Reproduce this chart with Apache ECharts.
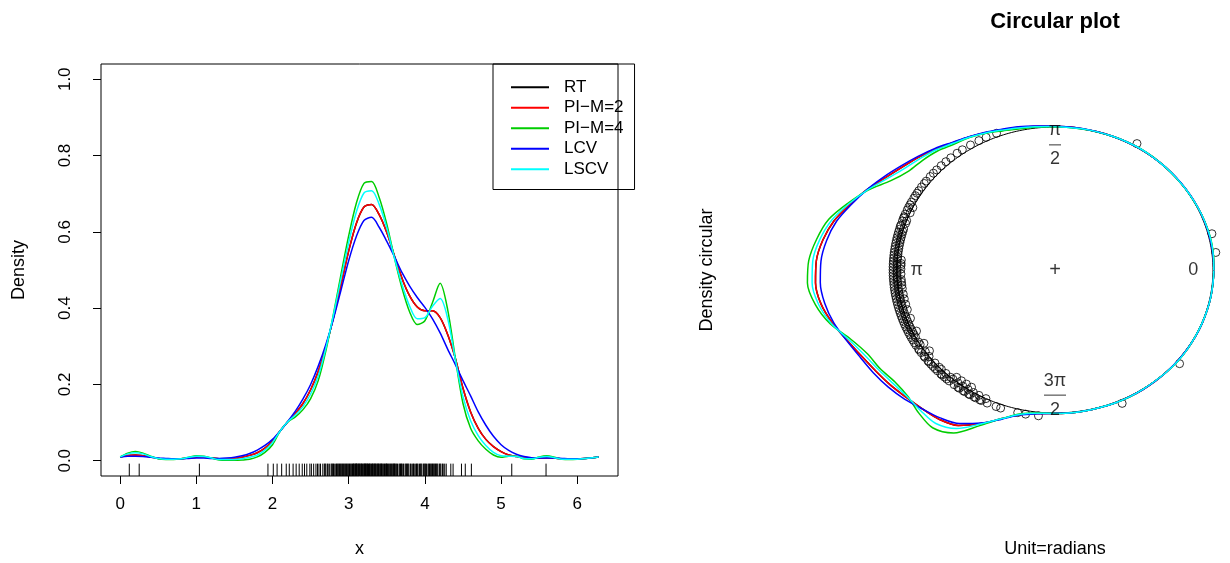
<!DOCTYPE html>
<html>
<head>
<meta charset="utf-8">
<script src="https://cdn.jsdelivr.net/npm/echarts@6/dist/echarts.min.js"></script>
<style>
  html, body { margin: 0; padding: 0; background: #ffffff; }
  #chart { width: 1230px; height: 563px; }
</style>
</head>
<body>
<div id="chart"></div>
<script>
// Evaluation grid (radians) for the kernel density estimates
const xs = [0.0, 0.1, 0.2, 0.3, 0.4, 0.5, 0.6, 0.7, 0.8, 0.9,
            1.0, 1.1, 1.2, 1.3, 1.4, 1.5, 1.6, 1.7, 1.8, 1.9,
            2.0, 2.1, 2.2, 2.3, 2.4, 2.5, 2.6, 2.7, 2.8, 2.9,
            3.0, 3.1, 3.2, 3.3, 3.4, 3.5, 3.6, 3.7, 3.8, 3.9,
            4.0, 4.1, 4.2, 4.3, 4.4, 4.5, 4.6, 4.7, 4.8, 4.9,
            5.0, 5.1, 5.2, 5.3, 5.4, 5.5, 5.6, 5.7, 5.8, 5.9,
            6.0, 6.1, 6.2, 6.28];

// Linear-scale density estimates, one array per bandwidth selector
const densRT = [0.010, 0.014, 0.015, 0.013, 0.010, 0.006, 0.004, 0.004, 0.005, 0.007,
                0.009, 0.009, 0.007, 0.005, 0.005, 0.006, 0.009, 0.014, 0.021, 0.033,
                0.052, 0.078, 0.102, 0.124, 0.150, 0.186, 0.234, 0.298, 0.375, 0.462,
                0.550, 0.622, 0.665, 0.672, 0.645, 0.598, 0.537, 0.478, 0.432, 0.403,
                0.393, 0.393, 0.375, 0.330, 0.268, 0.190, 0.128, 0.085, 0.056, 0.037,
                0.024, 0.015, 0.011, 0.008, 0.007, 0.007, 0.008, 0.007, 0.005, 0.005,
                0.005, 0.006, 0.008, 0.010];
const densPI2 = [0.010, 0.014, 0.015, 0.013, 0.010, 0.006, 0.004, 0.004, 0.005, 0.007,
                 0.009, 0.009, 0.007, 0.005, 0.005, 0.006, 0.009, 0.014, 0.021, 0.033,
                 0.052, 0.078, 0.102, 0.124, 0.150, 0.186, 0.234, 0.298, 0.375, 0.462,
                 0.550, 0.622, 0.665, 0.672, 0.645, 0.598, 0.537, 0.478, 0.432, 0.403,
                 0.393, 0.393, 0.375, 0.330, 0.268, 0.190, 0.128, 0.085, 0.056, 0.037,
                 0.024, 0.015, 0.011, 0.008, 0.007, 0.007, 0.008, 0.007, 0.005, 0.005,
                 0.005, 0.006, 0.008, 0.010];
const densPI4 = [0.010, 0.020, 0.024, 0.020, 0.012, 0.005, 0.003, 0.003, 0.005, 0.009,
                 0.013, 0.012, 0.007, 0.002, 0.001, 0.001, 0.002, 0.004, 0.010, 0.022,
                 0.042, 0.078, 0.102, 0.115, 0.134, 0.163, 0.210, 0.288, 0.385, 0.490,
                 0.590, 0.675, 0.727, 0.732, 0.690, 0.620, 0.532, 0.452, 0.390, 0.357,
                 0.367, 0.415, 0.465, 0.395, 0.268, 0.150, 0.085, 0.052, 0.030, 0.015,
                 0.009, 0.012, 0.012, 0.005, 0.004, 0.010, 0.013, 0.009, 0.004, 0.003,
                 0.004, 0.006, 0.008, 0.010];
const densLCV = [0.010, 0.012, 0.012, 0.011, 0.009, 0.007, 0.006, 0.005, 0.005, 0.006,
                 0.007, 0.007, 0.006, 0.006, 0.007, 0.009, 0.013, 0.019, 0.028, 0.040,
                 0.056, 0.078, 0.103, 0.130, 0.162, 0.200, 0.248, 0.305, 0.372, 0.448,
                 0.525, 0.588, 0.630, 0.638, 0.612, 0.575, 0.535, 0.493, 0.458, 0.428,
                 0.402, 0.372, 0.335, 0.292, 0.252, 0.210, 0.170, 0.128, 0.093, 0.064,
                 0.042, 0.027, 0.017, 0.011, 0.008, 0.007, 0.007, 0.007, 0.006, 0.005,
                 0.005, 0.006, 0.008, 0.010];
const densLSCV = [0.010, 0.018, 0.021, 0.018, 0.011, 0.006, 0.004, 0.004, 0.005, 0.009,
                  0.012, 0.011, 0.007, 0.003, 0.003, 0.003, 0.005, 0.009, 0.015, 0.028,
                  0.048, 0.078, 0.102, 0.120, 0.142, 0.175, 0.222, 0.295, 0.382, 0.478,
                  0.572, 0.652, 0.702, 0.708, 0.672, 0.610, 0.532, 0.462, 0.405, 0.372,
                  0.375, 0.405, 0.425, 0.372, 0.265, 0.168, 0.105, 0.066, 0.040, 0.022,
                  0.013, 0.012, 0.011, 0.006, 0.005, 0.009, 0.011, 0.008, 0.004, 0.004,
                  0.004, 0.006, 0.008, 0.010];

// Circular density estimates on the same angle grid (radial height above the unit circle)
const circRT = [0.006, 0.008, 0.009, 0.008, 0.006, 0.004, 0.003, 0.003, 0.004, 0.005,
                0.006, 0.006, 0.005, 0.004, 0.004, 0.005, 0.008, 0.015, 0.030, 0.045,
                0.070, 0.097, 0.125, 0.168, 0.210, 0.255, 0.315, 0.395, 0.470, 0.550,
                0.605, 0.640, 0.648, 0.625, 0.570, 0.505, 0.455, 0.420, 0.395, 0.370,
                0.355, 0.345, 0.310, 0.215, 0.115, 0.042, 0.012, 0.004, 0.004, 0.004,
                0.004, 0.005, 0.006, 0.005, 0.004, 0.004, 0.005, 0.005, 0.004, 0.004,
                0.004, 0.005, 0.005, 0.006];
const circPI2 = circRT.slice();
const circPI4 = [0.006, 0.010, 0.012, 0.010, 0.007, 0.003, 0.002, 0.002, 0.003, 0.006,
                 0.008, 0.007, 0.004, 0.002, 0.001, 0.001, 0.003, 0.008, 0.015, 0.035,
                 0.065, 0.092, 0.110, 0.145, 0.170, 0.195, 0.265, 0.385, 0.490, 0.595,
                 0.655, 0.700, 0.712, 0.670, 0.590, 0.475, 0.405, 0.380, 0.350, 0.355,
                 0.400, 0.435, 0.385, 0.235, 0.115, 0.035, 0.008, 0.003, 0.004, 0.004,
                 0.004, 0.006, 0.007, 0.004, 0.003, 0.005, 0.007, 0.005, 0.003, 0.003,
                 0.004, 0.005, 0.005, 0.006];
const circLCV = [0.006, 0.007, 0.007, 0.007, 0.006, 0.005, 0.004, 0.004, 0.004, 0.004,
                 0.005, 0.005, 0.004, 0.004, 0.005, 0.006, 0.010, 0.020, 0.035, 0.050,
                 0.075, 0.100, 0.130, 0.175, 0.220, 0.270, 0.330, 0.395, 0.460, 0.530,
                 0.575, 0.603, 0.610, 0.595, 0.560, 0.510, 0.470, 0.445, 0.420, 0.390,
                 0.355, 0.330, 0.290, 0.210, 0.120, 0.045, 0.015, 0.004, 0.004, 0.004,
                 0.004, 0.005, 0.005, 0.005, 0.004, 0.004, 0.004, 0.004, 0.004, 0.004,
                 0.004, 0.005, 0.005, 0.006];
const circLSCV = [0.006, 0.009, 0.011, 0.009, 0.007, 0.004, 0.003, 0.003, 0.004, 0.005,
                  0.007, 0.006, 0.004, 0.003, 0.002, 0.002, 0.004, 0.012, 0.025, 0.042,
                  0.068, 0.095, 0.120, 0.160, 0.195, 0.235, 0.300, 0.390, 0.480, 0.570,
                  0.630, 0.668, 0.675, 0.645, 0.580, 0.490, 0.430, 0.395, 0.370, 0.360,
                  0.375, 0.390, 0.340, 0.220, 0.115, 0.040, 0.010, 0.004, 0.004, 0.004,
                  0.004, 0.006, 0.006, 0.004, 0.003, 0.005, 0.006, 0.005, 0.003, 0.003,
                  0.004, 0.005, 0.005, 0.006];

// Observed angles (radians)
const angles = [
  0.12, 0.25, 1.04, 1.94, 2.01, 2.06, 2.12, 2.18, 2.22, 2.27,
  2.31, 2.35, 2.39, 2.42, 2.45, 2.49, 2.51, 2.54, 2.57, 2.59,
  2.61, 2.63, 2.66, 2.68, 2.69, 2.70, 2.72, 2.73, 2.75, 2.77,
  2.78, 2.79, 2.80, 2.81, 2.83, 2.84, 2.85, 2.86, 2.87, 2.88,
  2.89, 2.90, 2.91, 2.92, 2.93, 2.94, 2.95, 2.96, 2.97, 2.98,
  2.99, 3.00, 3.01, 3.02, 3.03, 3.04, 3.05, 3.06, 3.065, 3.07,
  3.08, 3.09, 3.095, 3.10, 3.105, 3.11, 3.12, 3.13, 3.135, 3.14,
  3.15, 3.16, 3.165, 3.17, 3.18, 3.19, 3.20, 3.205, 3.21, 3.22,
  3.225, 3.23, 3.24, 3.245, 3.25, 3.26, 3.27, 3.275, 3.28, 3.29,
  3.30, 3.31, 3.315, 3.32, 3.33, 3.34, 3.345, 3.35, 3.36, 3.37,
  3.38, 3.385, 3.39, 3.40, 3.41, 3.42, 3.425, 3.43, 3.44, 3.45,
  3.46, 3.47, 3.48, 3.49, 3.495, 3.50, 3.51, 3.52, 3.53, 3.54,
  3.55, 3.56, 3.57, 3.58, 3.59, 3.595, 3.60, 3.61, 3.62, 3.63,
  3.64, 3.66, 3.67, 3.68, 3.69, 3.695, 3.71, 3.72, 3.74, 3.75,
  3.76, 3.77, 3.78, 3.79, 3.81, 3.82, 3.84, 3.85, 3.86, 3.88,
  3.89, 3.90, 3.91, 3.93, 3.94, 3.95, 3.96, 3.98, 3.99, 4.00,
  4.01, 4.02, 4.04, 4.05, 4.06, 4.07, 4.08, 4.09, 4.10, 4.11,
  4.12, 4.13, 4.14, 4.15, 4.16, 4.17, 4.19, 4.20, 4.21, 4.23,
  4.24, 4.26, 4.28, 4.34, 4.37, 4.48, 4.53, 4.61, 5.14, 5.59
];

// Axis ticks
const xTicks = [0, 1, 2, 3, 4, 5, 6];
const yTicks = [0, 0.2, 0.4, 0.6, 0.8, 1.0];

// Labels placed inside the circle
const circleLabels = [
  { angle: 0, text: '0' },
  { angle: Math.PI / 2, text: '{n|\u03c0}\n{bar1| }\n{d|2}' },
  { angle: Math.PI, text: '\u03c0' },
  { angle: 3 * Math.PI / 2, text: '{n|3\u03c0}\n{bar2| }\n{d|2}' }
];

const seriesNames = ['RT', 'PI\u2212M=2', 'PI\u2212M=4', 'LCV', 'LSCV'];
const seriesColors = ['#000000', '#FF0000', '#00CD00', '#0000FF', '#00FFFF'];
const densities = [densRT, densPI2, densPI4, densLCV, densLSCV];
const circDensities = [circRT, circPI2, circPI4, circLCV, circLSCV];

const FONT = '"Liberation Sans", Arial, Helvetica, sans-serif';
const LINE_W = 1.5;
const FS = 17;       // tick labels and legend
const FS_LAB = 18;   // axis titles

// Linear panel ranges (4% padding like base graphics)
const X_MIN = -0.04 * 2 * Math.PI, X_MAX = 2 * Math.PI * 1.04;
const Y_MIN = -0.04, Y_MAX = 1.04;
const RUG_LEN = 0.03 * (Y_MAX - Y_MIN);

// Circular panel geometry
const CX = 1055, CY = 270, RX = 158, RY = 143;
const CXMIN = -2.2, CXMAX = 1.1, CYMIN = -1.5, CYMAX = 1.5;
const RADIAL_SCALE = 0.8;
const POINT_R = 1.025, STACK_SEP = 0.025, STACK_BIN = 0.02;
const LABEL_R = 0.875;

// Linear density curves
const linearSeries = seriesNames.map((name, i) => ({
  name, type: 'line', xAxisIndex: 0, yAxisIndex: 0,
  data: xs.map((x, j) => [x, densities[i][j]]),
  symbol: 'none', smooth: 0.3,
  lineStyle: { color: seriesColors[i], width: LINE_W },
  itemStyle: { color: seriesColors[i] },
  z: 3 + i
}));

// Circular density curves wrapped round the unit circle
const circularSeries = seriesNames.map((name, i) => {
  const pts = xs.map((a, j) => {
    const r = 1 + RADIAL_SCALE * circDensities[i][j];
    return [r * Math.cos(a), r * Math.sin(a)];
  });
  pts.push(pts[0]);
  return {
    name, type: 'line', xAxisIndex: 1, yAxisIndex: 1,
    data: pts, symbol: 'none', smooth: 0.3, clip: false,
    lineStyle: { color: seriesColors[i], width: LINE_W },
    itemStyle: { color: seriesColors[i] },
    z: 3 + i
  };
});

// Unit circle outline
const unitCircle = [];
for (let k = 0; k <= 360; k++) {
  const t = k / 360 * 2 * Math.PI;
  unitCircle.push([Math.cos(t), Math.sin(t)]);
}

// Stack coincident observations inward
const stackCount = {};
const pointData = angles.map(a => {
  const bin = Math.floor(a / STACK_BIN);
  const lvl = stackCount[bin] || 0;
  stackCount[bin] = lvl + 1;
  const r = POINT_R - STACK_SEP * lvl;
  return [r * Math.cos(a), r * Math.sin(a)];
});

const option = {
  animation: false,
  backgroundColor: '#ffffff',
  textStyle: { fontFamily: FONT, color: '#000' },
  legend: {
    orient: 'vertical', left: 493, top: 64,
    itemWidth: 38, itemHeight: 14, itemGap: 0,
    padding: [13, 11, 10, 17],
    borderColor: '#000', borderWidth: 1, borderRadius: 0,
    selectedMode: false,
    itemStyle: { opacity: 0 },
    textStyle: { fontFamily: FONT, fontSize: FS, color: '#000', lineHeight: 20.5, padding: [0, 0, 0, 10] },
    data: seriesNames
  },
  grid: [
    { left: 101, top: 64, width: 517, height: 412, show: true,
      borderColor: '#000', borderWidth: 1, backgroundColor: 'transparent' },
    { left: CX + CXMIN * RX, top: CY - CYMAX * RY,
      width: (CXMAX - CXMIN) * RX, height: (CYMAX - CYMIN) * RY, show: false }
  ],
  xAxis: [
    { type: 'value', gridIndex: 0, min: X_MIN, max: X_MAX,
      name: 'x', nameLocation: 'middle', nameGap: 64,
      nameTextStyle: { fontFamily: FONT, fontSize: FS_LAB, color: '#000' },
      axisLine: { show: false, onZero: false },
      axisTick: { show: true, customValues: xTicks, length: 8, lineStyle: { color: '#000' } },
      axisLabel: { customValues: xTicks, margin: 20, fontFamily: FONT, fontSize: FS, color: '#000' },
      splitLine: { show: false } },
    { type: 'value', gridIndex: 1, min: CXMIN, max: CXMAX, show: false,
      axisLine: { onZero: false } }
  ],
  yAxis: [
    { type: 'value', gridIndex: 0, min: Y_MIN, max: Y_MAX,
      name: 'Density', nameLocation: 'middle', nameGap: 73,
      nameTextStyle: { fontFamily: FONT, fontSize: FS_LAB, color: '#000' },
      axisLine: { show: false, onZero: false },
      axisTick: { show: true, customValues: yTicks, length: 8, lineStyle: { color: '#000' } },
      axisLabel: { customValues: yTicks, rotate: 90, margin: 27, fontFamily: FONT, fontSize: FS, color: '#000',
                   formatter: v => v.toFixed(1) },
      splitLine: { show: false } },
    { type: 'value', gridIndex: 1, min: CYMIN, max: CYMAX, show: false,
      axisLine: { onZero: false } }
  ],
  series: [
    ...linearSeries,
    {
      name: 'rug', type: 'custom', xAxisIndex: 0, yAxisIndex: 0,
      data: angles.map(a => [a, Y_MIN]), silent: true, z: 2,
      renderItem: (params, api) => {
        const p0 = api.coord([api.value(0), Y_MIN]);
        const p1 = api.coord([api.value(0), Y_MIN + RUG_LEN]);
        return { type: 'line', shape: { x1: p0[0], y1: p0[1], x2: p1[0], y2: p1[1] },
                 style: { stroke: '#000', lineWidth: 1 } };
      }
    },
    {
      name: 'circle', type: 'line', xAxisIndex: 1, yAxisIndex: 1,
      data: unitCircle, symbol: 'none', clip: false, silent: true,
      lineStyle: { color: '#000', width: 1 }, z: 2
    },
    {
      name: 'obs', type: 'scatter', xAxisIndex: 1, yAxisIndex: 1,
      data: pointData, symbol: 'circle', symbolSize: 8, clip: false, silent: true,
      itemStyle: { color: 'rgba(0,0,0,0)', borderColor: '#000', borderWidth: 1 }, z: 2
    },
    ...circularSeries,
    {
      name: 'axisText', type: 'scatter', xAxisIndex: 1, yAxisIndex: 1, silent: true,
      symbolSize: 0, z: 10,
      data: circleLabels.map(l => ({
        value: [LABEL_R * Math.cos(l.angle), LABEL_R * Math.sin(l.angle)],
        label: { formatter: l.text }
      })).concat([{ value: [0, 0], label: { formatter: '+', fontSize: 20 } }]),
      label: {
        show: true, position: 'inside', fontFamily: FONT, fontSize: 18, color: '#000',
        align: 'center', verticalAlign: 'middle',
        rich: {
          n: { fontFamily: FONT, fontSize: 18, color: '#000', lineHeight: 20, align: 'center' },
          d: { fontFamily: FONT, fontSize: 18, color: '#000', lineHeight: 20, align: 'center' },
          bar1: { width: 12, height: 1, lineHeight: 9, fontSize: 1, backgroundColor: '#000', align: 'center' },
          bar2: { width: 22, height: 1, lineHeight: 9, fontSize: 1, backgroundColor: '#000', align: 'center' }
        }
      }
    }
  ],
  graphic: [
    { type: 'text', x: CX, y: 22, style: { text: 'Circular plot',
      font: 'bold 22px ' + FONT, fill: '#000', textAlign: 'center', textVerticalAlign: 'middle' } },
    { type: 'text', x: 707, y: CY, rotation: Math.PI / 2, style: { text: 'Density circular',
      font: FS_LAB + 'px ' + FONT, fill: '#000', textAlign: 'center', textVerticalAlign: 'middle' } },
    { type: 'text', x: CX, y: 549, style: { text: 'Unit=radians',
      font: FS_LAB + 'px ' + FONT, fill: '#000', textAlign: 'center', textVerticalAlign: 'middle' } }
  ]
};

const chart = echarts.init(document.getElementById('chart'), null, { renderer: 'canvas' });
chart.setOption(option);
</script>
</body>
</html>
